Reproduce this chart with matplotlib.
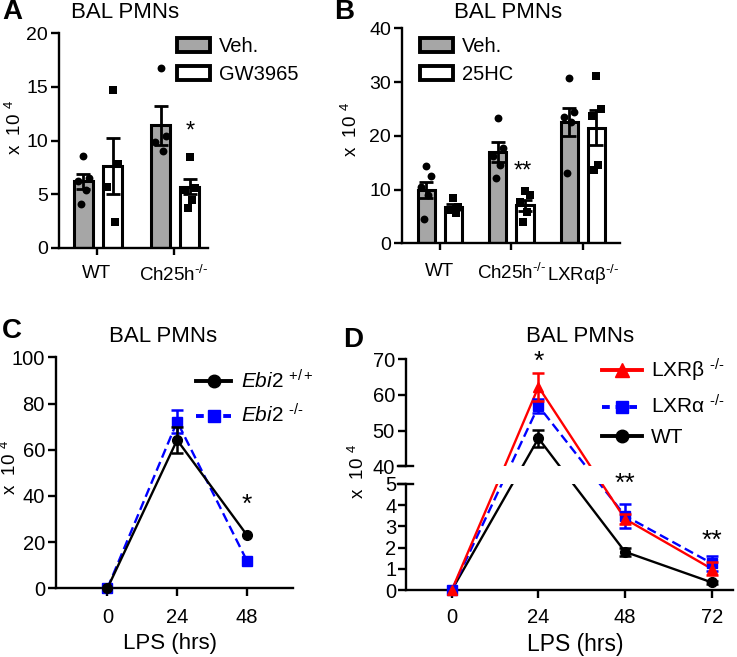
import numpy as np
import matplotlib
matplotlib.use('Agg')
import matplotlib.pyplot as plt
from matplotlib.patches import Patch
from matplotlib.lines import Line2D

plt.rcParams['font.family'] = ['Liberation Sans', 'DejaVu Sans']
plt.rcParams['mathtext.fontset'] = 'custom'
plt.rcParams['mathtext.rm'] = 'Liberation Sans'
plt.rcParams['mathtext.it'] = 'Liberation Sans:italic'
plt.rcParams['mathtext.bf'] = 'Liberation Sans:bold'

# ---- panel A data (x 10^4 cells)
a_groups = ['WT', r'Ch25h$^{\text{-/-}}$']
a_veh_mean = [6.2, 11.4]
a_veh_sem = [0.7, 1.8]
a_veh_pts = [[8.6, 6.5, 6.2, 5.4, 4.1], [16.7, 10.4, 9.9, 9.0]]
a_trt_mean = [7.6, 5.7]
a_trt_sem = [2.6, 0.7]
a_trt_pts = [[14.7, 7.8, 5.7, 2.4], [8.5, 5.6, 5.4, 4.5, 3.7]]

# ---- panel B data
b_groups = ['WT', r'Ch25h$^{\text{-/-}}$', r'LXRαβ$^{\text{-/-}}$']
b_veh_mean = [9.9, 17.0, 22.5]
b_veh_sem = [1.5, 1.8, 2.6]
b_veh_pts = [[14.3, 12.5, 10.5, 9.0, 4.6], [23.4, 17.7, 16.2, 14.6, 12.2], [30.8, 24.4, 23.5, 22.6, 13.0]]
b_trt_mean = [6.8, 7.1, 21.5]
b_trt_sem = [0.6, 1.0, 3.3]
b_trt_pts = [[8.4, 6.8, 6.2, 5.6], [9.7, 9.0, 7.6, 5.9, 4.0], [31.2, 25.0, 23.6, 14.5, 13.6]]

# ---- panel C data
c_hours = [0, 24, 48]
c_wt = [0, 64.2, 23.1]
c_wt_sem = [0, 5.8, 0]
c_ko = [0, 72.2, 12.0]
c_ko_sem = [0, 5.0, 0]

# ---- panel D data
d_hours = [0, 24, 48, 72]
d_lxrb = [0, 62.3, 3.35, 1.0]
d_lxrb_sem = [0, 4.0, 0.25, 0.3]
d_lxra = [0, 56.9, 3.5, 1.26]
d_lxra_sem = [0, 2.1, 0.57, 0.35]
d_wt = [0, 47.8, 1.8, 0.36]
d_wt_sem = [0, 2.4, 0.2, 0.06]

W, H = 737, 657
GRAY = '#a6a6a6'
BLUE = '#0000ff'
RED = '#ff0000'
JITTER = np.array([0.0, 0.28, -0.28, 0.12, -0.12])

fig = plt.figure(figsize=(W / 100, H / 100), dpi=100)


def frac(l, t, r, b):
    # pixel box -> figure fraction
    return [l / W, 1 - b / H, (r - l) / W, (b - t) / H]


def style(ax, size=14):
    for s in ['top', 'right']:
        ax.spines[s].set_visible(False)
    for s in ['left', 'bottom']:
        ax.spines[s].set_linewidth(1.7)
    ax.tick_params(width=1.7, length=6, labelsize=size, pad=2)


def bar_panel(ax, groups, veh_mean, veh_sem, veh_pts, trt_mean, trt_sem, trt_pts, offs, width):
    x = np.arange(len(groups))
    ax.bar(x + offs[0], veh_mean, width, color=GRAY, edgecolor='black', linewidth=2.2, zorder=2)
    ax.bar(x + offs[1], trt_mean, width, color='white', edgecolor='black', linewidth=2.2, zorder=2)
    for i in range(len(groups)):
        jv = JITTER[:len(veh_pts[i])] * width
        jt = JITTER[:len(trt_pts[i])] * width
        ax.scatter(x[i] + offs[0] + jv, veh_pts[i], marker='o', s=32, color='black', zorder=3, linewidths=0)
        ax.scatter(x[i] + offs[1] + jt, trt_pts[i], marker='s', s=28, color='black', zorder=3, linewidths=0)
    ax.errorbar(x + offs[0], veh_mean, yerr=veh_sem, fmt='none', ecolor='black',
                elinewidth=2, capsize=5, capthick=2, zorder=4)
    ax.errorbar(x + offs[1], trt_mean, yerr=trt_sem, fmt='none', ecolor='black',
                elinewidth=2, capsize=5, capthick=2, zorder=4)
    ax.set_xticks(x)
    ax.set_xticklabels(groups)
    ax.tick_params(axis='x', labelsize=13.5)


def bar_legend(ax, labels, x, y):
    h = [Patch(facecolor=GRAY, edgecolor='black', linewidth=2.8, joinstyle='round'),
         Patch(facecolor='white', edgecolor='black', linewidth=2.8, joinstyle='round')]
    ax.legend(h, labels, loc='upper left', bbox_to_anchor=(x / W, 1 - y / H),
              bbox_transform=fig.transFigure, frameon=False, fontsize=14.5,
              handlelength=1.65, handleheight=0.7, handletextpad=0.45,
              labelspacing=0.45, borderpad=0, borderaxespad=0)


# ---------------- A
axA = fig.add_axes(frac(59, 33, 208, 248))
style(axA)
bar_panel(axA, a_groups, a_veh_mean, a_veh_sem, a_veh_pts, a_trt_mean, a_trt_sem, a_trt_pts,
          (-0.175, 0.205), 0.245)
axA.set_xlim(-0.49, 1.44)
axA.set_ylim(0, 20)
axA.set_yticks([0, 5, 10, 15, 20])
axA.tick_params(axis='x', length=5, pad=7)
axA.text(1.205, 10.8, '*', ha='center', va='center', fontsize=17)
bar_legend(axA, ['Veh.', 'GW3965'], 177, 37)

# ---------------- B
axB = fig.add_axes(frac(402, 28.3, 620, 243.3))
style(axB)
bar_panel(axB, b_groups, b_veh_mean, b_veh_sem, b_veh_pts, b_trt_mean, b_trt_sem, b_trt_pts,
          (-0.19, 0.19), 0.24)
axB.set_xlim(-0.53, 2.52)
axB.set_ylim(0, 40)
axB.set_yticks([0, 10, 20, 30, 40])
axB.tick_params(axis='x', length=5, pad=9)
axB.text(1.16, 13.4, '**', ha='center', va='center', fontsize=17)
bar_legend(axB, ['Veh.', '25HC'], 420, 37)

# ---------------- C
axC = fig.add_axes(frac(56, 357.3, 293, 588.3))
style(axC, 14.5)
axC.plot(c_hours, c_ko, color=BLUE, ls=(0, (4, 2)), lw=1.7, marker='s', ms=7, clip_on=False, zorder=3)
axC.plot(c_hours, c_wt, color='black', lw=1.7, marker='o', ms=7, clip_on=False, zorder=4)
axC.errorbar(c_hours[1:2], c_ko[1:2], yerr=c_ko_sem[1:2], fmt='none', ecolor=BLUE,
             elinewidth=1.8, capsize=4, capthick=1.8, zorder=3)
axC.errorbar(c_hours[1:2], c_wt[1:2], yerr=c_wt_sem[1:2], fmt='none', ecolor='black',
             elinewidth=1.8, capsize=4, capthick=1.8, zorder=4)
axC.set_xlim(-17.7, 63.9)
axC.set_ylim(0, 100)
axC.set_xticks(c_hours)
axC.set_yticks([0, 20, 40, 60, 80, 100])
axC.tick_params(axis='x', length=6, pad=8)
axC.text(48, 36, '*', ha='center', va='center', fontsize=19)
hC = [Line2D([], [], color='black', lw=2.8, marker='o', ms=9),
      Line2D([], [], color=BLUE, lw=2.8, ls=(0, (2, 1.5)), marker='s', ms=9)]
axC.legend(hC, [r'$\mathit{Ebi2}$ $^{+/+}$', r'$\mathit{Ebi2}$ $^{\text{-/-}}$'], loc='upper left',
           bbox_to_anchor=(196 / W, 1 - 369 / H), bbox_transform=fig.transFigure,
           frameon=False, fontsize=15, handlelength=1.7, handletextpad=0.45,
           labelspacing=0.55, borderpad=0, borderaxespad=0)

# ---------------- D (broken y axis: 0-5 below, 40-70 above)
GAP = 0.85


def fwd(v):
    v = np.asarray(v, dtype=float)
    return np.where(v <= 5, v, np.where(v >= 40, 5 + GAP + (v - 40) / 6.0, 5 + GAP * (v - 5) / 35.0))


def inv(m):
    m = np.asarray(m, dtype=float)
    return np.where(m <= 5, m, np.where(m >= 5 + GAP, 40 + (m - 5 - GAP) * 6.0, 5 + (m - 5) * 35.0 / GAP))


axDl = fig.add_axes(frac(406, 484, 733, 590))
axDu = fig.add_axes(frac(406, 359.5, 733, 466))
for ax in (axDl, axDu):
    style(ax, 14.5)
    ax.set_yscale('function', functions=(fwd, inv))
    ax.set_xlim(-12.7, 77.9)
axDl.set_ylim(0, 5)
axDu.set_ylim(40, 70)
axDl.set_yticks([0, 1, 2, 3, 4, 5])
axDu.set_yticks([40, 50, 60, 70])
axDl.set_xticks(d_hours)
axDl.tick_params(axis='x', length=6, pad=7)
axDl.tick_params(axis='y', pad=1)
axDu.spines['bottom'].set_visible(False)
axDu.set_xticks([])
# short marks across the spine where the axis is broken
axDu.plot([-0.025, 0.02], [0, 0], transform=axDu.transAxes, color='black', lw=1.7, clip_on=False)
axDl.plot([-0.025, 0.02], [1, 1], transform=axDl.transAxes, color='black', lw=1.7, clip_on=False)

series = [(d_wt, d_wt_sem, 'black', '-', 'o'),
          (d_lxra, d_lxra_sem, BLUE, (0, (4, 2)), 's'),
          (d_lxrb, d_lxrb_sem, RED, '-', '^')]
for k, (y, e, col, ls, mk) in enumerate(series):
    x = np.array(d_hours, dtype=float)
    y = np.array(y)
    e = np.array(e)
    for ax, lo, hi in ((axDl, 0, 5), (axDu, 40, 70)):
        ax.plot(x, y, color=col, ls=ls, lw=1.7, zorder=2 + k)
        m = (y >= lo) & (y <= hi)
        me = m & (e > 0)
        ax.errorbar(x[me], y[me], yerr=e[me], fmt='none', ecolor=col, elinewidth=1.8,
                    capsize=4, capthick=1.8, zorder=5 + k)
        ax.plot(x[m], y[m], ls='none', marker=mk, color=col, ms=7, clip_on=False, zorder=5 + k)

axDu.text(24, 69.2, '*', ha='center', va='center', fontsize=19)
axDl.text(48, 5.0, '**', ha='center', va='center', fontsize=19, clip_on=False)
axDl.text(72, 2.3, '**', ha='center', va='center', fontsize=19)
hD = [Line2D([], [], color=RED, lw=2.8, marker='^', ms=10),
      Line2D([], [], color=BLUE, lw=2.8, ls=(0, (2, 1.5)), marker='s', ms=9),
      Line2D([], [], color='black', lw=2.8, marker='o', ms=9)]
axDu.legend(hD, [r'LXRβ $^{\text{-/-}}$', r'LXRα $^{\text{-/-}}$', 'WT'], loc='upper left',
            bbox_to_anchor=(602 / W, 1 - 357 / H), bbox_transform=fig.transFigure,
            frameon=False, fontsize=15, handlelength=1.9, handletextpad=0.45,
            labelspacing=0.5, borderpad=0, borderaxespad=0)

# ---------------- titles, letters, axis labels
for x, y in ((125, 13), (508, 13), (163, 337), (580, 337)):
    fig.text(x / W, 1 - y / H, 'BAL PMNs', ha='center', va='center', fontsize=16)
for s, x, y in (('A', 12, 12), ('B', 344, 12), ('C', 12, 331), ('D', 353, 340)):
    fig.text(x / W, 1 - y / H, s, ha='center', va='center', fontsize=20, fontweight='bold')
for x, y in ((15, 128), (351, 130), (10, 468), (358, 472)):
    fig.text(x / W, 1 - y / H, 'x  10 $^{4}$', ha='center', va='center', fontsize=13.5, rotation=90)
fig.text(170 / W, 1 - 644 / H, 'LPS (hrs)', ha='center', va='center', fontsize=16)
fig.text(575 / W, 1 - 644 / H, 'LPS (hrs)', ha='center', va='center', fontsize=16.5)

fig.savefig('out.png', dpi=100)
